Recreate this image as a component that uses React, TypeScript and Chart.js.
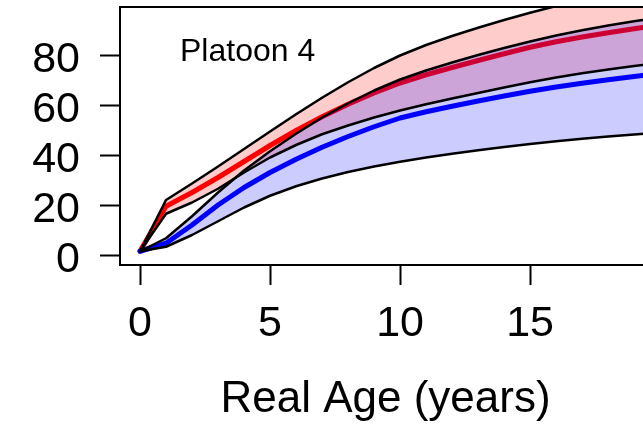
import React, { useEffect, useRef } from "react";
import { Chart, registerables } from "chart.js";

Chart.register(...registerables);

// Real age (years)
const ages = [0, 1, 2, 3, 4, 5, 6, 7, 8, 9, 10, 11, 12, 13, 14, 15, 16, 17, 18, 19, 20];

// Red band (upper / mean / lower)
const redUpper = [1.5, 22, 28.6, 35.4, 42.4, 49.4, 56.3, 62.9, 69.1, 74.8, 79.8, 84, 87.6, 90.9, 94, 96.9, 99.6, 102.1, 104.4, 106.5, 108.4];
const redMean = [1.5, 19.5, 25, 31, 37.4, 43.8, 49.8, 55.3, 60.3, 64.8, 68.8, 72.1, 75, 77.8, 80.5, 83.1, 85.3, 87.2, 88.9, 90.5, 92];
const redLower = [1.5, 16.5, 21, 26.5, 33, 39, 44, 48.3, 51.8, 55, 57.8, 60.3, 62.6, 64.8, 67, 69.1, 71, 72.7, 74.2, 75.6, 76.9];

// Blue band (upper / mean / lower)
const blueUpper = [1.5, 6.7, 15.5, 25, 33.8, 41.5, 48.5, 55, 60.7, 65.8, 70.2, 73.8, 77, 80, 82.8, 85.4, 87.8, 89.9, 91.8, 93.5, 95];
const blueMean = [1.5, 4.7, 12, 20, 27, 33, 38.3, 43.1, 47.4, 51.3, 54.8, 57.3, 59.5, 61.6, 63.6, 65.5, 67.2, 68.7, 70.1, 71.4, 72.6];
const blueLower = [1.5, 3.3, 8, 13.5, 19, 23.7, 27.5, 30.6, 33.2, 35.4, 37.3, 39, 40.5, 41.9, 43.2, 44.4, 45.5, 46.5, 47.4, 48.2, 48.9];

const xTicks = [0, 5, 10, 15];
const yTicks = [0, 20, 40, 60, 80];
const xTitle = "Real Age (years)";
const panelLabel = "Platoon 4";

const FONT = '"Liberation Sans", Arial, Helvetica, sans-serif';

export default function App() {
  const ref = useRef<HTMLCanvasElement>(null);

  useEffect(() => {
    if (!ref.current) return;
    const pts = (arr: number[]) => ages.map((a, i) => ({ x: a, y: arr[i] }));
    const none = "rgba(0,0,0,0)";
    const base = (arr: number[], order: number) => ({
      data: pts(arr),
      borderColor: none,
      borderWidth: 0,
      pointRadius: 0,
      fill: false,
      order,
    });
    const bandTop = (arr: number[], color: string, order: number) => ({
      data: pts(arr),
      borderColor: none,
      borderWidth: 0,
      pointRadius: 0,
      fill: "-1",
      backgroundColor: color,
      order,
    });
    const meanLine = (arr: number[], color: string, order: number) => ({
      data: pts(arr),
      borderColor: color,
      borderWidth: 5,
      pointRadius: 0,
      fill: false,
      order,
    });
    const outline = (arr: number[]) => ({
      data: pts(arr),
      borderColor: "#000",
      borderWidth: 2.5,
      pointRadius: 0,
      fill: false,
      order: 1,
    });

    const boxPlugin = {
      id: "boxAndLabel",
      afterDatasetsDraw(chart: any) {
        const { ctx, chartArea } = chart;
        const { left, top, right, bottom } = chartArea;
        ctx.save();
        ctx.strokeStyle = "#000";
        ctx.lineWidth = 2;
        ctx.strokeRect(left, top, right - left, bottom - top);
        ctx.fillStyle = "#000";
        ctx.font = `32px ${FONT}`;
        ctx.textBaseline = "alphabetic";
        ctx.textAlign = "left";
        ctx.fillText(panelLabel, left + 60, top + 54);
        ctx.restore();
      },
    };

    const zeroPad = (s: any) => {
      s.paddingLeft = 0;
      s.paddingRight = 0;
      s.paddingTop = 0;
      s.paddingBottom = 0;
    };

    const chart = new Chart(ref.current, {
      type: "line",
      data: {
        datasets: [
          base(redLower, 10),
          bandTop(redUpper, "rgba(255,0,0,0.2)", 9),
          meanLine(redMean, "rgb(255,0,0)", 8),
          base(blueLower, 7),
          bandTop(blueUpper, "rgba(0,0,255,0.2)", 6),
          meanLine(blueMean, "rgb(0,0,255)", 5),
          outline(redUpper),
          outline(redLower),
          outline(blueUpper),
          outline(blueLower),
        ] as any,
      },
      options: {
        responsive: false,
        animation: false,
        events: [],
        layout: { padding: { top: 7, right: 9, left: 0, bottom: 0 } },
        elements: {
          line: { tension: 0, borderJoinStyle: "round", borderCapStyle: "round" },
          point: { radius: 0 },
        },
        plugins: {
          legend: { display: false },
          tooltip: { enabled: false },
          filler: { drawTime: "beforeDatasetDraw" },
        } as any,
        scales: {
          x: {
            type: "linear",
            min: -0.77,
            max: 19.65,
            afterBuildTicks: (s: any) => {
              s.ticks = xTicks.map((v) => ({ value: v }));
            },
            afterFit: (s: any) => {
              s.height = 167;
              zeroPad(s);
            },
            grid: {
              drawOnChartArea: false,
              drawTicks: true,
              tickLength: 20,
              tickWidth: 2,
              tickColor: "#000",
            },
            border: { display: false },
            ticks: {
              color: "#000",
              font: { family: FONT, size: 43 },
              padding: 13,
              maxRotation: 0,
              autoSkip: false,
            },
            title: {
              display: true,
              text: xTitle,
              color: "#000",
              font: { family: FONT, size: 44 },
              padding: { top: 0, bottom: 6 },
            },
          },
          y: {
            type: "linear",
            min: -4,
            max: 99.2,
            afterBuildTicks: (s: any) => {
              s.ticks = yTicks.map((v) => ({ value: v }));
            },
            afterFit: (s: any) => {
              s.width = 120;
              zeroPad(s);
            },
            grid: {
              drawOnChartArea: false,
              drawTicks: true,
              tickLength: 20,
              tickWidth: 2,
              tickColor: "#000",
            },
            border: { display: false },
            ticks: {
              color: "#000",
              font: { family: FONT, size: 43 },
              padding: 20,
              labelOffset: 5,
              autoSkip: false,
            },
          },
        },
      } as any,
      plugins: [boxPlugin],
    });

    return () => chart.destroy();
  }, []);

  return (
    <div
      style={{
        position: "fixed",
        left: 0,
        top: 0,
        width: 643,
        height: 426,
        overflow: "hidden",
        background: "#fff",
      }}
    >
      <canvas ref={ref} width={660} height={432} style={{ display: "block", width: 660, height: 432 }} />
    </div>
  );
}
